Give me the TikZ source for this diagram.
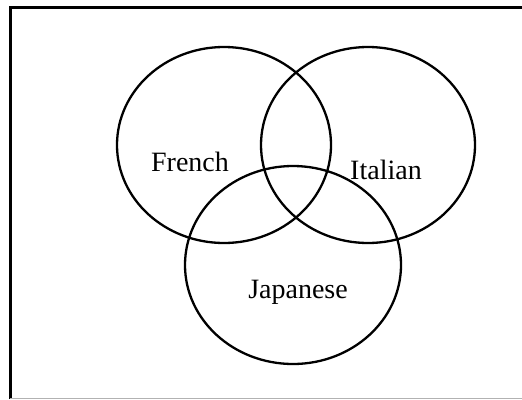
\documentclass[tikz,border=0pt]{standalone}
\usepackage{fontspec}
\setmainfont{Liberation Serif}
\begin{document}
\begin{tikzpicture}[x=1pt,y=-1pt,
  venn/.style={draw=black,line width=2.3pt},
  lbl/.style={font=\fontsize{28}{32}\selectfont,inner sep=0pt}]
\useasboundingbox (0,0) rectangle (522,399);
\fill[white] (0,0) rectangle (522,399);
\draw[line width=3pt] (10,399) -- (10,7) -- (522,7);
\draw[gray!60,line width=1pt] (10,398) -- (522,398);
\draw[venn] (224,145) ellipse [x radius=107, y radius=98];
\draw[venn] (368,145) ellipse [x radius=107, y radius=98];
\draw[venn] (293,265) ellipse [x radius=108, y radius=99];
\node[lbl] (fr) at (190,162) {French};
\node[lbl] (it) at (386,170) {Italian};
\node[lbl] (jp) at (298,292) {Japanese};
\end{tikzpicture}
\end{document}
